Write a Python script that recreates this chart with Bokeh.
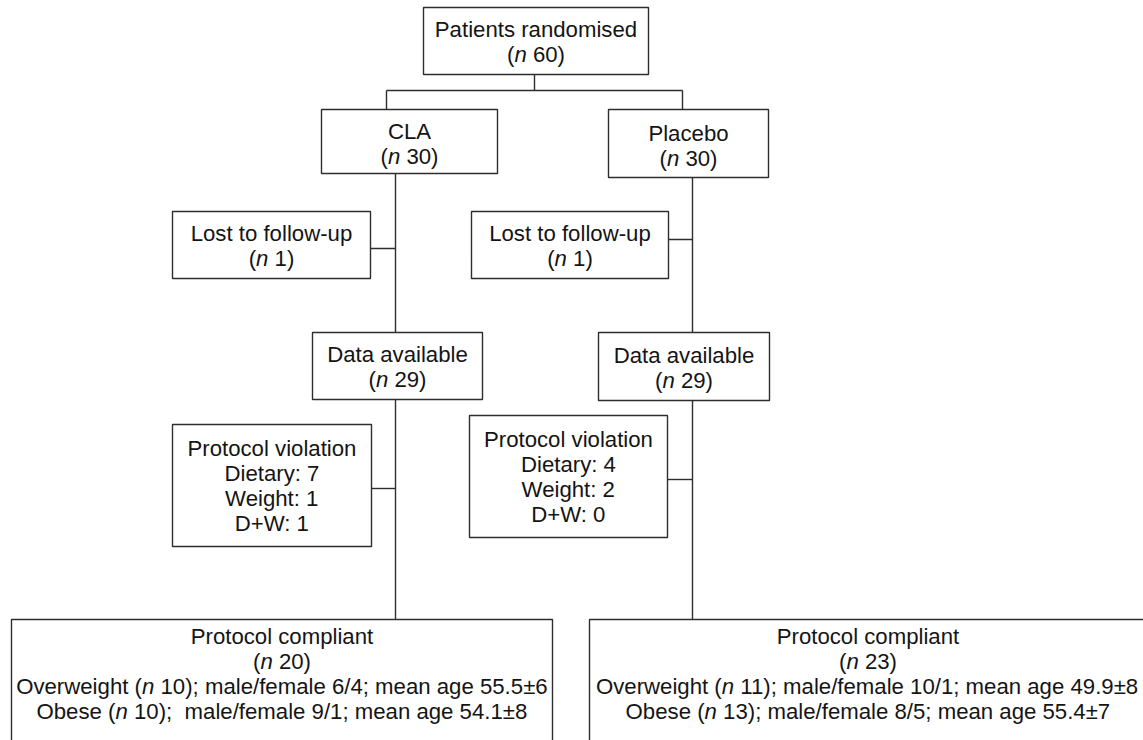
import re
from bokeh.plotting import figure
from bokeh.models import Range1d, ColumnDataSource
from bokeh.core.properties import value
from bokeh.embed import file_html
from bokeh.resources import INLINE

# ---------------- data ----------------
groups = ["CLA", "Placebo"]
n_randomised = 60
n_group = [30, 30]
n_lost = [1, 1]
n_available = [29, 29]
viol_dietary = [7, 4]
viol_weight = [1, 2]
viol_dw = [1, 0]
n_compliant = [20, 23]
n_overweight = [10, 11]
mf_overweight = ["6/4", "10/1"]
age_overweight = ["55.5±6", "49.9±8"]
n_obese = [10, 13]
mf_obese = ["9/1", "8/5"]
age_obese = ["54.1±8", "55.4±7"]
obese_gap = ["  ", " "]

# ---------------- styles ----------------
FS = 22.2
LINE = 25
FONT = "Liberation Sans"
INK = "#141414"
EDGE = "#2e2e2e"

# Arial / Liberation Sans advance widths (1/1000 em)
W = {" ": 278, "(": 333, ")": 333, ";": 278, ":": 278, "/": 278, ".": 278,
     "+": 584, "±": 549, "-": 333,
     "A": 667, "C": 722, "D": 722, "L": 556, "O": 778, "P": 667, "W": 944,
     "a": 556, "b": 556, "c": 500, "d": 556, "e": 556, "f": 278, "g": 556,
     "h": 556, "i": 222, "l": 222, "m": 833, "n": 556, "o": 556, "p": 556,
     "r": 333, "s": 500, "t": 278, "u": 556, "v": 500, "w": 722, "y": 500}
for d in "0123456789":
    W[d] = 556


def tw(s):
    return sum(W.get(c, 556) for c in s) / 1000.0 * FS


def nline(k, pre="", post=""):
    return [(pre + "(", False), ("n", True), (" %s)" % k + post, False)]


def plain(s):
    return [(s, False)]


# ---------------- layout (pixel geometry of the boxes) ----------------
boxes = []
boxes.append(dict(l=423, r=648, t=7, b=74, cy=41,
                  lines=[plain("Patients randomised"), nline(n_randomised)]))

geo = {
    "CLA": dict(grp=(321, 497, 109, 173), lost=(172, 370, 211, 278),
                avail=(312, 482, 332, 399), viol=(172, 371, 424, 546),
                comp=(11, 552, 619, 760), trunk=395, drop=386,
                lost_y=248, viol_y=488),
    "Placebo": dict(grp=(608, 768, 109, 177), lost=(471, 668, 211, 278),
                    avail=(598, 769, 332, 400), viol=(469, 667, 415, 537),
                    comp=(589, 1146, 619, 760), trunk=692, drop=682,
                    lost_y=239, viol_y=479),
}

for i, g in enumerate(groups):
    G = geo[g]
    l, r, t, b = G["grp"]
    boxes.append(dict(l=l, r=r, t=t, b=b, cy=(t + b) / 2 + 2,
                      lines=[plain(g), nline(n_group[i])]))
    l, r, t, b = G["lost"]
    boxes.append(dict(l=l, r=r, t=t, b=b, cy=(t + b) / 2 + 1,
                      lines=[plain("Lost to follow-up"), nline(n_lost[i])]))
    l, r, t, b = G["avail"]
    boxes.append(dict(l=l, r=r, t=t, b=b, cy=(t + b) / 2 + 1,
                      lines=[plain("Data available"), nline(n_available[i])]))
    l, r, t, b = G["viol"]
    boxes.append(dict(l=l, r=r, t=t, b=b, cy=(t + b) / 2,
                      lines=[plain("Protocol violation"),
                             plain("Dietary: %d" % viol_dietary[i]),
                             plain("Weight: %d" % viol_weight[i]),
                             plain("D+W: %d" % viol_dw[i])]))
    l, r, t, b = G["comp"]
    boxes.append(dict(l=l, r=r, t=t, b=b, cy=673.5,
                      lines=[plain("Protocol compliant"), nline(n_compliant[i]),
                             [("Overweight (", False), ("n", True),
                              (" %d); male/female %s; mean age %s"
                               % (n_overweight[i], mf_overweight[i], age_overweight[i]), False)],
                             [("Obese (", False), ("n", True),
                              (" %d);%smale/female %s; mean age %s"
                               % (n_obese[i], obese_gap[i], mf_obese[i], age_obese[i]), False)]]))

# connectors
seg = dict(x0=[], y0=[], x1=[], y1=[])


def add(x0, y0, x1, y1):
    seg["x0"].append(x0); seg["y0"].append(y0)
    seg["x1"].append(x1); seg["y1"].append(y1)


top = boxes[0]
split_y = 90
add(534, top["b"], 534, split_y)
add(geo["CLA"]["drop"], split_y, geo["Placebo"]["drop"], split_y)
for g in groups:
    G = geo[g]
    add(G["drop"], split_y, G["drop"], G["grp"][2])
    add(G["trunk"], G["grp"][3], G["trunk"], G["avail"][2])
    add(G["trunk"], G["avail"][3], G["trunk"], G["comp"][2])
    add(G["lost"][1], G["lost_y"], G["trunk"], G["lost_y"])
    add(G["viol"][1], G["viol_y"], G["trunk"], G["viol_y"])


# ---------------- text layout with italic segments ----------------
def layout_line(segments):
    items = []
    x = 0.0
    for text, it in segments:
        cur = None
        pending = ""
        for tok in re.findall(r" +|[^ ]+", text):
            if tok[0] == " ":
                if cur is not None and len(tok) == 1:
                    pending = tok
                else:
                    if cur is not None:
                        items.append(cur)
                        cur = None
                    pending = ""
            else:
                if cur is not None and pending:
                    cur[0] += pending + tok
                else:
                    if cur is not None:
                        items.append(cur)
                    cur = [tok, it, x]
                pending = ""
            x += tw(tok)
        if cur is not None:
            items.append(cur)
    return items, x


txt = {False: dict(x=[], y=[], text=[]), True: dict(x=[], y=[], text=[])}
for bx in boxes:
    cx = (bx["l"] + bx["r"]) / 2.0
    n = len(bx["lines"])
    for k, segs in enumerate(bx["lines"]):
        y = bx["cy"] + (k - (n - 1) / 2.0) * LINE
        items, total = layout_line(segs)
        x0 = cx - total / 2.0
        for s, it, off in items:
            txt[it]["x"].append(x0 + off)
            txt[it]["y"].append(y)
            txt[it]["text"].append(s)

# ---------------- figure ----------------
PW, PH = 1143, 740
p = figure(width=PW, height=PH, x_range=Range1d(0, PW), y_range=Range1d(PH, 0),
           output_backend="svg", toolbar_location=None, min_border=0,
           x_axis_location=None, y_axis_location=None)
p.grid.visible = False
p.outline_line_color = None
p.background_fill_color = "white"
p.border_fill_color = "white"

p.segment(x0="x0", y0="y0", x1="x1", y1="y1", source=ColumnDataSource(seg),
          line_color=EDGE, line_width=1.4)

bsrc = ColumnDataSource(dict(left=[b["l"] for b in boxes], right=[b["r"] for b in boxes],
                             top=[b["t"] for b in boxes], bottom=[b["b"] for b in boxes]))
p.quad(left="left", right="right", top="top", bottom="bottom", source=bsrc,
       fill_color="white", line_color=EDGE, line_width=1.4)

for it in (False, True):
    p.text(x="x", y="y", text="text", source=ColumnDataSource(txt[it]),
           text_font=value(FONT), text_font_size=value("%gpx" % FS),
           text_font_style="italic" if it else "normal",
           text_align="left", text_baseline="middle", text_color=INK)

open("out.html", "w").write(file_html(p, INLINE))
